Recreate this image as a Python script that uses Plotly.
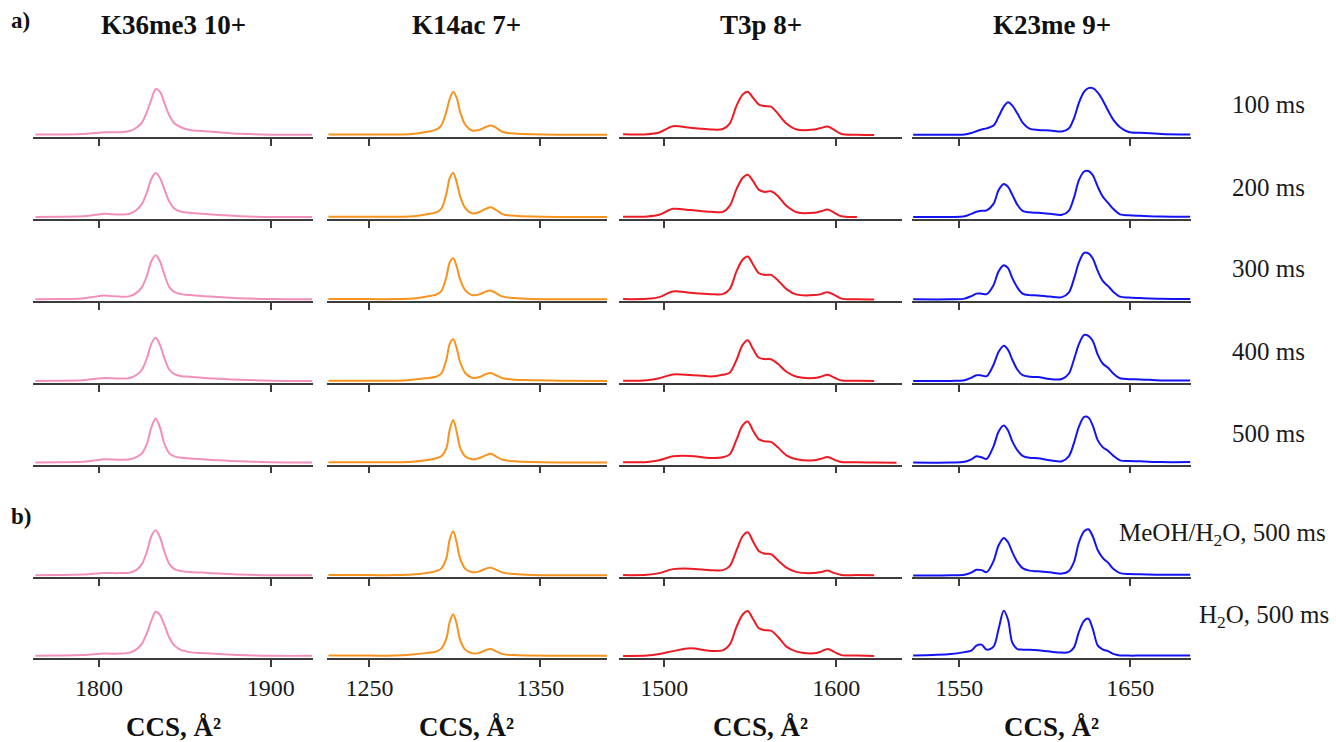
import plotly.graph_objects as go

W, H = 1336, 742

peptides = ["K36me3 10+", "K14ac 7+", "T3p 8+", "K23me 9+"]
conditions = ["100 ms", "200 ms", "300 ms", "400 ms", "500 ms",
              "MeOH/H<sub>2</sub>O, 500 ms", "H<sub>2</sub>O, 500 ms"]
line_colors = ["#F190BB", "#F7931E", "#EC1C24", "#1414F2"]
tick_values = [[1800, 1900], [1250, 1350], [1500, 1600], [1550, 1650]]
ccs_ranges = [[1761.6, 1924.6], [1225.0, 1389.0], [1473.8, 1638.2], [1522.5, 1685.5]]

# ---- CCS grids (Å²) ----
ccs_k36me3 = [1763, 1776, 1790, 1798, 1803, 1812, 1818, 1822, 1825, 1828, 1830.5, 1833,
              1835.5, 1838, 1841, 1844, 1848, 1853, 1860, 1870, 1882, 1900, 1924]
ccs_k14ac = [1226, 1250, 1265, 1275, 1283, 1289, 1292, 1295, 1297, 1299, 1301, 1303,
             1306, 1310, 1314, 1318, 1321, 1324, 1328, 1335, 1345, 1360, 1389]
ccs_t3p = [1476, 1490, 1497, 1505, 1515, 1527, 1534, 1538, 1542, 1545.5, 1548.5, 1551.5,
           1555, 1558.5, 1562, 1566, 1571, 1577, 1587, 1591, 1595, 1599, 1603, 1612, 1622, 1635]
ccs_k23me = [1523, 1545, 1553, 1557, 1560, 1563, 1566, 1570, 1573, 1576, 1578.5, 1581,
             1584, 1587, 1591, 1596, 1603, 1610, 1614, 1617, 1620, 1623, 1625.5, 1628,
             1631, 1634, 1637, 1640, 1644, 1649, 1656, 1668, 1685]

# ---- arrival-time distributions, intensity (a.u.), one row per condition ----
int_k36me3 = [
    [1, 1, 1.5, 2.5, 3.2, 3.3, 4.5, 8, 13, 24, 36, 46.5, 44, 33, 20, 12, 8, 5.5, 4.5, 3.2, 1.8, 0.8, 0.8],
    [0.8, 1, 1.5, 3, 4, 3.2, 4, 8, 14, 26, 39, 45, 40, 29, 16, 9, 6, 5, 4, 2.8, 1.5, 0.8, 0.8],
    [0.8, 1, 1.5, 3.5, 4.5, 3.5, 4, 7.5, 13, 25, 39, 45, 39, 26, 13, 8, 6, 5, 4, 3, 1.8, 1, 0.8],
    [0.8, 1, 1.5, 3, 3.8, 3.2, 3.8, 7, 12, 24, 38, 44, 37, 24, 12, 7.5, 5.5, 5, 4, 3, 2, 1, 0.8],
    [0.8, 1, 1.5, 3, 4, 3.5, 4, 6.5, 10, 20, 36, 45, 36, 20, 10, 7, 5.5, 4.8, 4, 3, 2, 1, 0.8],
    [0.8, 1, 1.5, 2.5, 3, 3, 3.5, 6.5, 12, 25, 40, 46, 39, 25, 12, 7, 5, 4, 3.5, 2.5, 1.5, 0.8, 0.8],
    [0.8, 1, 1.5, 2.5, 3, 3, 4, 7.5, 13, 24, 36, 45, 42, 32, 19, 11, 6.5, 4.5, 3.5, 2.5, 1.5, 0.8, 0.8],
]
int_k14ac = [
    [1, 1, 1, 1.5, 3.5, 6, 10, 24, 37, 44, 38, 24, 11, 5, 5.5, 8.5, 10, 8, 3.5, 2, 1.2, 0.8, 0.8],
    [1, 1, 1, 1.5, 3.5, 5.5, 9, 24, 40, 45, 36, 22, 10, 4.5, 5.5, 9, 10.5, 8, 3.5, 2, 1.2, 0.8, 0.8],
    [1, 1, 1, 1.5, 3.5, 5.5, 9, 23, 38, 42, 34, 21, 10, 5, 5.5, 8.5, 9.5, 7, 3.5, 2, 1.2, 0.8, 0.8],
    [1, 1, 1, 2, 3.5, 5, 8, 22, 38, 42.5, 34, 20, 9, 4, 4.5, 7.5, 8.7, 6.5, 3.5, 2, 1.5, 1, 0.8],
    [1, 1, 1, 1.5, 3, 5, 7, 15, 34, 43.5, 32, 16, 7, 4, 5, 8, 9.5, 7, 3.5, 2, 1.2, 0.8, 0.8],
    [1, 1, 1, 1.5, 3, 5, 7.5, 18, 37, 45, 34, 18, 7.5, 4, 4.5, 7.5, 8.5, 6.5, 3.5, 2, 1.2, 0.8, 0.8],
    [1, 1, 1, 2, 3.5, 5, 8, 18, 35, 42.5, 33, 17, 7, 3.5, 3.5, 6.5, 7.7, 5.5, 2.5, 1.5, 1, 0.8, 0.8],
]
int_t3p = [
    [1.3, 1.3, 3, 9.3, 7.7, 6, 6.5, 12, 30, 41, 44, 38, 31, 29.5, 29, 22, 12, 6, 6, 7.5, 9, 5.5, 1.5, 0.8, 0.5, None],
    [1, 1.3, 3, 9, 7.8, 6, 6, 12, 29, 40, 43.3, 37, 28, 26, 26.7, 22, 12, 5.5, 5, 6.5, 8.3, 5, 1.5, 0.8, None, None],
    [1, 1.3, 3, 8.7, 7.3, 6, 6, 11, 29, 40.5, 43.7, 36, 27, 25.3, 25.3, 20, 11, 5.5, 5, 6, 8, 5, 1.5, 0.8, 0.6, None],
    [1, 1.5, 3.5, 7.3, 6.8, 5.3, 7, 9, 22, 37, 41.7, 33, 24, 22.7, 22.5, 18, 10, 5, 3.7, 5, 7, 4, 1.3, 1, 0.8, None],
    [1, 1.3, 3, 7, 7.3, 5.3, 6, 9, 24, 38, 42, 33, 24, 22, 21.5, 16, 8, 4, 3, 4.5, 6.3, 3.5, 1.3, 1, 0.8, 0.5],
    [1, 1.3, 3, 7, 7.5, 6, 6, 10, 26, 40, 44, 35, 25, 22.5, 22, 16, 8.5, 4, 3, 4, 5.5, 3, 1.2, 1, 0.8, None],
    [0.7, 1, 2.5, 5.5, 8.3, 5.7, 6.3, 12, 30, 42, 45.7, 38, 28.5, 26.5, 26, 20, 10, 5, 3.3, 5, 7.7, 4.5, 1.5, 1, 0.6, None],
]
int_k23me = [
    [0.8, 0.8, 1, 2.5, 4.3, 6, 7.2, 10, 19, 29, 33.3, 30, 22, 13, 7, 5.5, 5, 4, 7, 17, 33, 44, 47.5,
     47.5, 43, 35, 25, 16, 8.3, 3.5, 2.7, 1.5, 1],
    [0.8, 0.8, 1.5, 4, 6, 7, 7.5, 14, 28, 34, 31, 23, 13, 7, 5.5, 5, 4, 3, 7, 20, 38, 46.5, 47,
     43, 31, 21, 15, 9, 3.5, 2.5, 2, 1.3, 1],
    [0.8, 0.8, 1.5, 4, 6.5, 6.5, 6, 15, 29, 35, 32, 22, 12.5, 6.5, 5, 4.7, 3.5, 3, 7.5, 21, 38, 47.5, 47,
     42, 29, 19, 14, 8.5, 3.5, 2.5, 2, 1.3, 1],
    [0.7, 0.8, 1.5, 4, 6.5, 6.3, 5.5, 17, 30, 36, 32, 22, 12, 6.5, 5, 4.7, 2.7, 2.7, 8, 22, 38, 47, 46,
     41, 27, 18, 14, 8.3, 3.5, 2.5, 2.3, 1.3, 1.3],
    [0.7, 0.8, 1.5, 4, 7, 6, 4.5, 17, 32, 38, 33, 22, 13, 7.5, 5.5, 5, 3, 2, 7, 20, 37, 46.5, 46,
     38, 23, 16, 12.5, 7.7, 3, 2.2, 2, 1.2, 1.2],
    [0.5, 0.8, 1.3, 3.5, 6.3, 6, 4, 15, 31, 38.3, 34, 24, 14, 8, 5.5, 4.8, 3.8, 2.5, 5, 14, 34, 45, 47,
     40, 26, 18, 13.5, 7.3, 3, 2, 1.8, 1.3, 1.3],
    [1, 2.5, 4.5, 6, 11, 12, 7, 10, 28, 46, 37, 14, 7.5, 7, 6.8, 6.3, 5, 4, 4.5, 9, 25, 36, 38,
     28, 11, 7, 5.5, 2.7, 1.2, 1, 1, 1, 1],
]

ccs_grids = [ccs_k36me3, ccs_k14ac, ccs_t3p, ccs_k23me]
intensities = [int_k36me3, int_k14ac, int_t3p, int_k23me]

# ---- panel geometry (pixels) ----
col_px = [(33, 313), (326.7, 607), (619.3, 902), (912.3, 1191)]
row_base_px = [136.7, 219, 301.3, 382.9, 464.5, 577.3, 657.8]
panel_h = 55

SERIF = "Liberation Serif, Times New Roman, serif"
AXIS_COLOR = "#3c3c3c"

fig = go.Figure()
layout_axes = {}

for r in range(7):
    for c in range(4):
        i = r * 4 + c + 1
        sfx = "" if i == 1 else str(i)
        fig.add_trace(go.Scatter(
            x=ccs_grids[c], y=intensities[c][r],
            mode="lines",
            line=dict(color=line_colors[c], width=2, shape="spline", smoothing=0.9),
            xaxis="x" + sfx, yaxis="y" + sfx,
            showlegend=False, hoverinfo="skip",
        ))
        x0, x1 = col_px[c]
        b = row_base_px[r]
        last = r == 6
        layout_axes["xaxis" + sfx] = dict(
            domain=[x0 / W, x1 / W], range=ccs_ranges[c], anchor="y" + sfx,
            showline=True, linecolor=AXIS_COLOR, linewidth=1.8,
            ticks="outside", ticklen=7, tickwidth=1.6, tickcolor=AXIS_COLOR,
            tickvals=tick_values[c], showticklabels=last,
            tickfont=dict(family=SERIF, size=24, color="#1a1a1a"),
            showgrid=False, zeroline=False, fixedrange=True,
        )
        layout_axes["yaxis" + sfx] = dict(
            domain=[1 - b / H, 1 - (b - panel_h) / H], range=[-1.2, 54],
            anchor="x" + sfx, visible=False, showgrid=False, zeroline=False,
            fixedrange=True,
        )

annotations = []
# column titles and axis titles
for c in range(4):
    xc = (col_px[c][0] + col_px[c][1]) / 2 / W
    annotations.append(dict(
        text="<b>" + peptides[c] + "</b>", x=xc, y=1 - 25 / H, xref="paper", yref="paper",
        xanchor="center", yanchor="middle", showarrow=False,
        font=dict(family=SERIF, size=27, color="#111"),
    ))
    annotations.append(dict(
        text="<b>CCS, Å²</b>", x=xc, y=1 - 727 / H, xref="paper", yref="paper",
        xanchor="center", yanchor="middle", showarrow=False,
        font=dict(family=SERIF, size=27, color="#111"),
    ))

# condition labels at the right
label_pos = [(1230, 104), (1230, 187), (1230, 269), (1230, 351), (1230, 433),
             (1117, 534), (1197, 616)]
for r in range(7):
    lx, ly = label_pos[r]
    annotations.append(dict(
        text=conditions[r], x=lx / W, y=1 - ly / H, xref="paper", yref="paper",
        xanchor="left", yanchor="middle", showarrow=False,
        font=dict(family=SERIF, size=25, color="#1a1a1a"),
    ))

# panel letters
for letter, ly in [("a)", 21), ("b)", 516)]:
    annotations.append(dict(
        text="<b>" + letter + "</b>", x=9 / W, y=1 - ly / H, xref="paper", yref="paper",
        xanchor="left", yanchor="middle", showarrow=False,
        font=dict(family=SERIF, size=23, color="#111"),
    ))

fig.update_layout(
    width=W, height=H, margin=dict(l=0, r=0, t=0, b=0),
    paper_bgcolor="white", plot_bgcolor="white",
    annotations=annotations, **layout_axes,
)

fig.write_html("out.html")
